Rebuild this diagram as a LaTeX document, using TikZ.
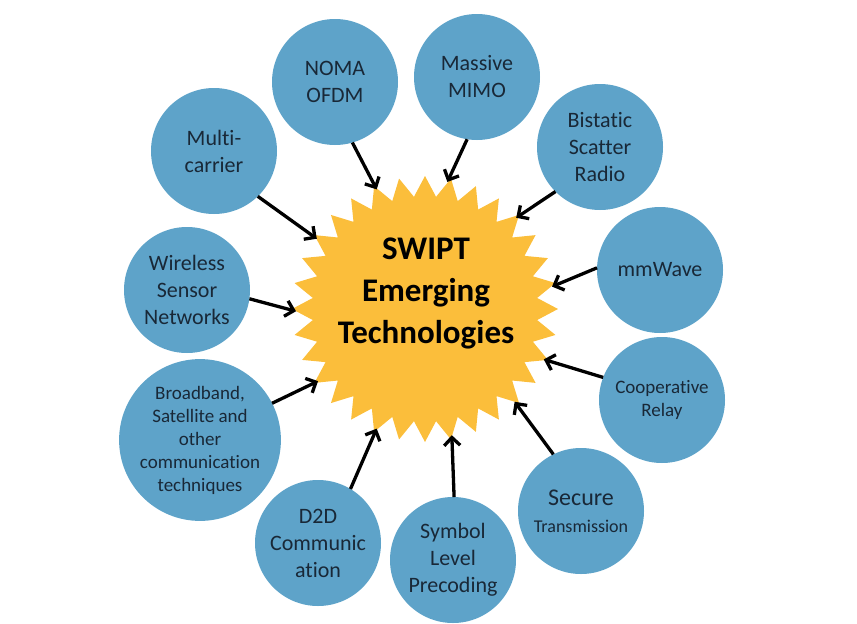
\documentclass[tikz,border=0pt]{standalone}
\usepackage{fontspec}
\setmainfont{Carlito}[Ligatures=CommonOff]
\usetikzlibrary{shapes.geometric,arrows.meta}
\definecolor{bub}{RGB}{94,163,201}
\definecolor{sun}{RGB}{251,190,59}
\definecolor{ink}{RGB}{25,40,55}
\begin{document}
\begin{tikzpicture}[x=1pt,y=-1pt,
  bubble/.style={circle, fill=bub, minimum size=126pt, inner sep=0pt, outer sep=0pt,
    align=center, text=ink, font=\fontsize{22}{27}\selectfont},
  link/.style={line width=3.3pt, black, -{Straight Barb[length=8pt,width=16pt]}}]
\useasboundingbox (0,0) rectangle (857,624);

\node[star, star points=32, star point ratio=1.18, minimum size=266pt, inner sep=0pt, fill=sun] (sun) at (425,309) {};
\node[circle, minimum size=258pt, inner sep=0pt, outer sep=0pt] (hub) at (425,309) {};
\node[font=\fontsize{33}{42}\selectfont\bfseries, align=center, text=black] (title) at (426,293) {SWIPT\\Emerging\\Technologies};

\node[bubble] (mc) at (214,151) {Multi-\\carrier};
\node[bubble] (noma) at (335,82) {NOMA\\OFDM};
\node[bubble] (mimo) at (477,77) {Massive\\MIMO};
\node[bubble] (bsr) at (600,147) {Bistatic\\Scatter\\Radio};
\node[bubble] (mmw) at (660,270) {mmWave};
\node[bubble, font=\fontsize{19}{23}\selectfont] (coop) at (662,400) {Cooperative\\Relay};
\node[bubble, font=\fontsize{18}{27}\selectfont] (sec) at (581,511) {{\fontsize{24}{27}\selectfont Secure}\\Transmission};
\node[bubble] (sym) at (453,560) {Symbol\\Level\\Precoding};
\node[bubble] (d2d) at (318,543) {D2D\\Communic\\ation};
\node[bubble, minimum size=154pt, font=\fontsize{19}{23}\selectfont] (bb) at (200,440) {Broadband,\\Satellite and\\other\\communication\\techniques};
\node[bubble] (wsn) at (187,290) {Wireless\\Sensor\\Networks};

\draw[link] (mc.-46) -- (hub.147);
\draw[link] (noma.-74) -- (hub.112);
\draw[link] (mimo.-99) -- (hub.80);
\draw[link] (bsr.-135) -- (hub.45);
\draw[link] (mmw.178) -- (hub.10);
\draw[link] (coop.159) -- (hub.-23);
\draw[link] (sec.116) -- (hub.-46);
\draw[link] (sym.89) -- (hub.-78);
\draw[link] (d2d.59) -- (hub.-112);
\draw[link] (bb.27) -- (hub.214);
\draw[link] (wsn.-8) -- (hub.181);
\end{tikzpicture}
\end{document}
